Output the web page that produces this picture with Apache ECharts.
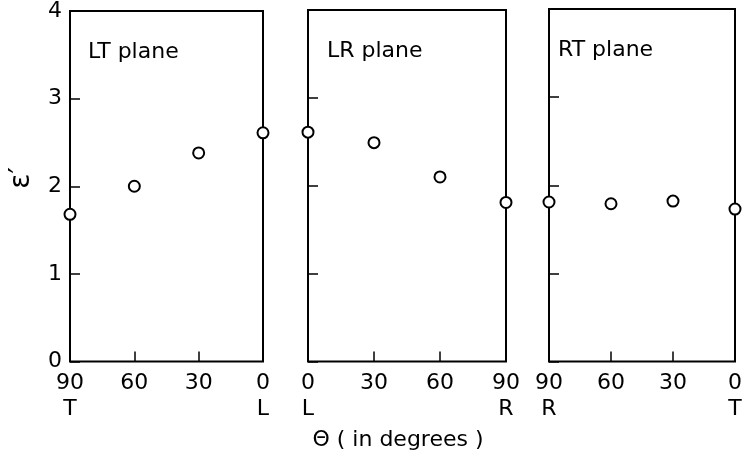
<!DOCTYPE html>
<html><head><meta charset="utf-8">
<script src="https://cdn.jsdelivr.net/npm/echarts@6/dist/echarts.min.js"></script>
<style>html,body{margin:0;padding:0;background:#fff}#c{width:745px;height:460px}</style>
</head><body><div id="c"></div>
<script>
// Data
const ltAngles = [90, 60, 30, 0];
const ltValues = [1.68, 2.0, 2.38, 2.61];
const lrAngles = [0, 30, 60, 90];
const lrValues = [2.61, 2.49, 2.10, 1.81];
const rtAngles = [90, 60, 30, 0];
const rtValues = [1.81, 1.79, 1.82, 1.73];
const xTicks = [0, 30, 60, 90];
const yTicks = [0, 1, 2, 3, 4];
const panelTitles = ['LT plane', 'LR plane', 'RT plane'];
const ltEnds = {90: 'T', 0: 'L'};
const lrEnds = {0: 'L', 90: 'R'};
const rtEnds = {90: 'R', 0: 'T'};
const yName = 'ε′';
const xName = 'Θ ( in degrees )';

const FONT = 'DejaVu Sans';
const chart = echarts.init(document.getElementById('c'), null, {renderer: 'canvas'});

const grids = [
  {left: 70, top: 11, width: 193, height: 350.5},
  {left: 308, top: 10, width: 198, height: 351.5},
  {left: 549, top: 9, width: 193, height: 352.5}
];
const ends = [ltEnds, lrEnds, rtEnds];
const inv = [true, false, true];
const xs = [ltAngles, lrAngles, rtAngles];
const ys = [ltValues, lrValues, rtValues];

const option = {
  animation: false,
  backgroundColor: '#fff',
  grid: grids.map(g => Object.assign({show: true, borderColor: '#000', borderWidth: 2, backgroundColor: 'transparent'}, g)),
  xAxis: grids.map((g, i) => ({
    gridIndex: i, type: 'value', min: 0, max: 90, interval: 30, inverse: inv[i], position: 'bottom',
    axisLine: {show: false, onZero: false}, splitLine: {show: false},
    axisTick: {show: true, inside: true, length: 10, lineStyle: {color: '#000', width: 1.5}},
    axisLabel: {
      show: true, margin: 9, fontFamily: FONT, fontSize: 22, color: '#000', lineHeight: 26,
      formatter: v => (xTicks.includes(v) ? v : '') + '\n' + (ends[i][v] || ' ')
    }
  })),
  yAxis: grids.map((g, i) => ({
    gridIndex: i, type: 'value', min: 0, max: 4, interval: 1, position: 'left',
    axisLine: {show: false, onZero: false}, splitLine: {show: false},
    axisTick: {show: true, inside: true, length: 10, lineStyle: {color: '#000', width: 1.5}},
    axisLabel: {show: i === 0, margin: 8, fontFamily: FONT, fontSize: 22, color: '#000',
      formatter: v => yTicks.includes(v) ? String(v) : ''}
  })),
  series: grids.map((g, i) => ({
    type: 'scatter', xAxisIndex: i, yAxisIndex: i, clip: false, z: 10,
    symbol: 'circle', symbolSize: 11,
    itemStyle: {color: '#fff', borderColor: '#000', borderWidth: 2, opacity: 1},
    data: xs[i].map((x, k) => [x, ys[i][k]])
  })),
  graphic: [
    {type: 'text', left: 88, top: 41, style: {text: panelTitles[0], font: '22px "DejaVu Sans"', fill: '#000'}},
    {type: 'text', left: 327, top: 40, style: {text: panelTitles[1], font: '22px "DejaVu Sans"', fill: '#000'}},
    {type: 'text', left: 558, top: 39, style: {text: panelTitles[2], font: '22px "DejaVu Sans"', fill: '#000'}},
    {type: 'text', x: 22, y: 178, rotation: Math.PI / 2,
      style: {text: yName, font: '28px "DejaVu Sans"', fill: '#000', align: 'center', verticalAlign: 'middle'}},
    {type: 'text', x: 398, y: 440,
      style: {text: xName, font: '22px "DejaVu Sans"', fill: '#000', align: 'center', verticalAlign: 'middle'}}
  ]
};
chart.setOption(option);
</script></body></html>
